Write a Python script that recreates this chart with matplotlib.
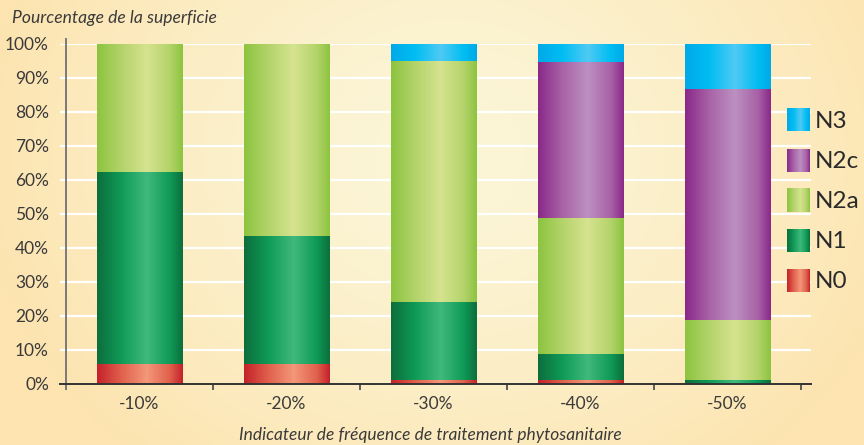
import numpy as np
import matplotlib
matplotlib.use("Agg")
import matplotlib.pyplot as plt
from matplotlib.colors import LinearSegmentedColormap

# ---- data ----
categories = ["-10%", "-20%", "-30%", "-40%", "-50%"]
series_names = ["N0", "N1", "N2a", "N2c", "N3"]
N0 = [5.8, 5.8, 1.1, 1.0, 0.0]
N1 = [56.4, 37.6, 23.0, 7.7, 1.1]
N2a = [37.8, 56.6, 70.8, 40.1, 17.6]
N2c = [0.0, 0.0, 0.0, 45.8, 68.0]
N3 = [0.0, 0.0, 5.1, 5.4, 13.3]
y_ticks = [0, 10, 20, 30, 40, 50, 60, 70, 80, 90, 100]
y_label = "Pourcentage de la superficie"
x_label = "Indicateur de fréquence de traitement phytosanitaire"

series_values = [N0, N1, N2a, N2c, N3]
palette = {
    "N0": ("#c4212a", "#e0604c", "#f4977a"),
    "N1": ("#0c6e3c", "#0f9a57", "#40b97c"),
    "N2a": ("#8cc43f", "#b3d36a", "#d6e38f"),
    "N2c": ("#8a2889", "#a862a6", "#bc90c2"),
    "N3": ("#00a9e8", "#00bdf2", "#4fcaf4"),
}

def grad_cmap(name):
    d, m, l = palette[name]
    return LinearSegmentedColormap.from_list(
        name, [(0, d), (0.28, m), (0.58, l), (0.85, m), (1, d)])

plt.rcParams["font.family"] = ["Lato", "DejaVu Sans"]
W, H = 864, 445
fig = plt.figure(figsize=(W / 100, H / 100), dpi=100)

# background gradient
bg = fig.add_axes([0, 0, 1, 1], zorder=-10)
xx, yy = np.meshgrid(np.linspace(0, 1, 400), np.linspace(0, 1, 200))
f = np.clip(np.sqrt(((xx - 0.52) / 0.55) ** 2 * 1.0 + ((yy - 0.35) / 0.9) ** 2), 0, 1) ** 1.4
cream = np.array([251, 246, 216]) / 255
peach = np.array([253, 228, 176]) / 255
img = cream[None, None, :] * (1 - f[..., None]) + peach[None, None, :] * f[..., None]
bg.imshow(img, extent=[0, 1, 0, 1], aspect="auto", origin="upper")
bg.set_axis_off()

# main axes
px_left, px_right = 60, 811
px_bottom, px_top = 383.7, 43.7
ax = fig.add_axes([px_left / W, 1 - px_bottom / H, (px_right - px_left) / W,
                   (px_bottom - px_top) / H])
ax.set_facecolor("none")
step = 147.0
ax.set_xlim(-0.5 - 6 / step, 4.5 + 10 / step)
ax.set_ylim(0, 100)

x = np.arange(len(categories))
bottom = np.zeros(len(categories))
grad = np.linspace(0, 1, 256)[None, :]
for name, vals in zip(series_names, series_values):
    vals = np.array(vals, dtype=float)
    bars = ax.bar(x, vals, bottom=bottom, width=0.58, color=palette[name][0],
                  edgecolor="none", zorder=3)
    cmap = grad_cmap(name)
    for b, v in zip(bars, vals):
        if v <= 0:
            continue
        x0, y0 = b.get_x(), b.get_y()
        im = ax.imshow(grad, cmap=cmap, aspect="auto", zorder=4,
                       extent=[x0, x0 + b.get_width(), y0, y0 + b.get_height()],
                       interpolation="bilinear")
        im.set_clip_path(b)
    bottom += vals
ax.set_xlim(-0.5 - 6 / step, 4.5 + 10 / step)
ax.set_ylim(0, 100)

# grid
for yv in y_ticks[1:]:
    ax.axhline(yv, color="white", lw=1.6, zorder=1)

for s in ["top", "right", "left"]:
    ax.spines[s].set_visible(False)
ax.spines["bottom"].set_color("#333333")
ax.spines["bottom"].set_linewidth(1.4)
ax.spines["bottom"].set_zorder(6)
ax.axvline(-0.5, ymin=-0.016, ymax=1.014, color="#7a7a7a", lw=1.4,
           clip_on=False, zorder=5)

ax.set_yticks(y_ticks)
ax.set_yticklabels([f"{v}%" for v in y_ticks])
ax.tick_params(axis="y", length=0, pad=8, labelsize=12.5, labelcolor="#3a3a3a")
ax.set_xticks(x)
ax.set_xticklabels(categories)
ax.tick_params(axis="x", which="major", length=0, pad=9, labelsize=12.5,
               labelcolor="#3a3a3a")
ax.set_xticks(np.arange(len(categories) + 1) - 0.5, minor=True)
ax.tick_params(axis="x", which="minor", length=4.5, width=1.2, color="#444444",
               direction="out")

fig.text(12 / W, 1 - 18 / H, y_label, fontsize=12.6, style="italic",
         color="#3a3a3a", va="center", ha="left")
fig.text(430 / W, 1 - 435 / H, x_label, fontsize=12.5, style="italic",
         color="#3a3a3a", va="center", ha="center")

# legend (gradient squares)
ov = fig.add_axes([0, 0, 1, 1], zorder=10)
ov.set_xlim(0, W)
ov.set_ylim(H, 0)
ov.set_axis_off()
ov.patch.set_alpha(0)
leg_top = 120
for i, name in enumerate(reversed(series_names)):
    cy = leg_top + i * 40.2
    ov.imshow(grad, cmap=grad_cmap(name), aspect="auto",
              extent=[787, 810, cy + 11.5, cy - 11.5], interpolation="bilinear")
    ov.text(815, cy + 1, name, fontsize=17.5, color="#2a2a2a", va="center",
            ha="left")
ov.set_xlim(0, W)
ov.set_ylim(H, 0)

fig.savefig("out.png", dpi=100)
